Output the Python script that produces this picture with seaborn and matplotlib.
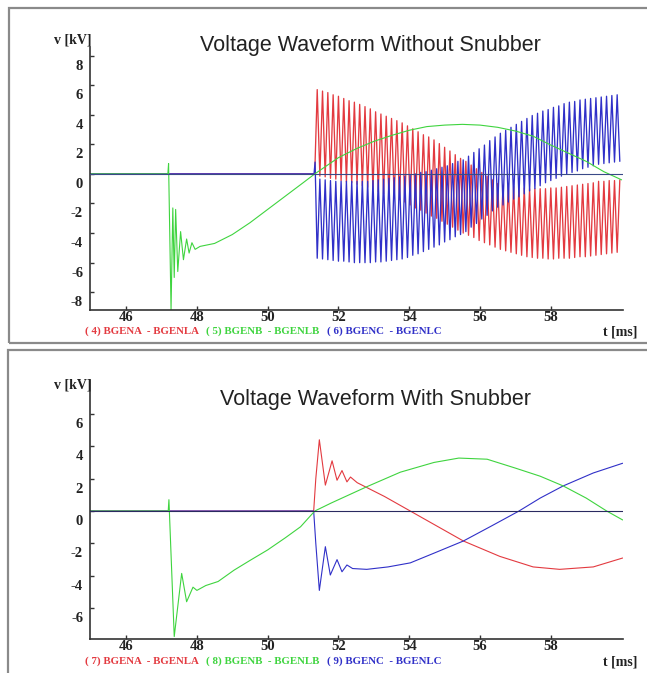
import matplotlib
matplotlib.use('Agg')
import pandas as pd
import matplotlib.pyplot as plt
import seaborn as sns
from matplotlib.patches import Rectangle
from matplotlib.transforms import ScaledTranslation

# ----------------- data -----------------
# fast oscillation (without snubber): peak times / trough times [ms]
peak_t = [51.40, 51.55, 51.70, 51.85, 52.00, 52.15, 52.30, 52.45, 52.60, 52.75,
          52.90, 53.05, 53.20, 53.35, 53.50, 53.65, 53.80, 53.95, 54.10, 54.25,
          54.40, 54.55, 54.70, 54.85, 55.00, 55.15, 55.30, 55.45, 55.60, 55.75,
          55.90, 56.05, 56.20, 56.35, 56.50, 56.65, 56.80, 56.95, 57.10, 57.25,
          57.40, 57.55, 57.70, 57.85, 58.00, 58.15, 58.30, 58.45, 58.60, 58.75,
          58.90, 59.05, 59.20, 59.35, 59.50, 59.65, 59.80, 59.95]
trough_t = [51.475, 51.625, 51.775, 51.925, 52.075, 52.225, 52.375, 52.525, 52.675, 52.825,
            52.975, 53.125, 53.275, 53.425, 53.575, 53.725, 53.875, 54.025, 54.175, 54.325,
            54.475, 54.625, 54.775, 54.925, 55.075, 55.225, 55.375, 55.525, 55.675, 55.825,
            55.975, 56.125, 56.275, 56.425, 56.575, 56.725, 56.875, 57.025, 57.175, 57.325,
            57.475, 57.625, 57.775, 57.925, 58.075, 58.225, 58.375, 58.525, 58.675, 58.825,
            58.975, 59.125, 59.275, 59.425, 59.575, 59.725, 59.875]

red_hi = [5.7, 5.6, 5.5, 5.35, 5.25, 5.1, 4.95, 4.85, 4.7, 4.55,
          4.4, 4.2, 4.05, 3.9, 3.75, 3.6, 3.45, 3.25, 3.05, 2.85,
          2.65, 2.5, 2.3, 2.05, 1.8, 1.55, 1.3, 1.05, 0.85, 0.6,
          0.35, 0.1, -0.15, -0.4, -0.65, -0.75, -0.8, -0.85, -0.9, -0.95,
          -1.0, -1.0, -1.0, -1.0, -0.95, -0.95, -0.9, -0.85, -0.8, -0.75,
          -0.7, -0.65, -0.6, -0.5, -0.5, -0.45, -0.45, -0.4]
red_lo = [-0.15, -0.2, -0.3, -0.35, -0.45, -0.55, -0.6, -0.7, -0.8, -0.9,
          -1.05, -1.2, -1.35, -1.5, -1.6, -1.75, -1.9, -2.1, -2.3, -2.45,
          -2.65, -2.85, -3.0, -3.2, -3.4, -3.6, -3.8, -4.0, -4.15, -4.3,
          -4.5, -4.65, -4.8, -4.95, -5.1, -5.2, -5.3, -5.4, -5.5, -5.6,
          -5.65, -5.7, -5.7, -5.75, -5.75, -5.7, -5.7, -5.7, -5.65, -5.6,
          -5.6, -5.55, -5.5, -5.45, -5.4, -5.35, -5.3]
blue_lo = [-5.7, -5.75, -5.8, -5.85, -5.9, -5.9, -5.95, -6.0, -6.0, -6.0,
           -6.0, -5.95, -5.95, -5.9, -5.85, -5.8, -5.75, -5.65, -5.5, -5.4,
           -5.25, -5.1, -4.95, -4.8, -4.6, -4.45, -4.25, -4.1, -3.9, -3.6,
           -3.35, -3.05, -2.8, -2.5, -2.25, -2.1, -1.9, -1.7, -1.55, -1.35,
           -1.15, -1.0, -0.8, -0.6, -0.45, -0.3, -0.15, 0.0, 0.1, 0.2,
           0.35, 0.45, 0.55, 0.65, 0.7, 0.75, 0.8, 0.85]
blue_hi = [-0.35, -0.4, -0.45, -0.5, -0.5, -0.5, -0.5, -0.5, -0.5, -0.5,
           -0.45, -0.4, -0.35, -0.3, -0.25, -0.2, -0.15, -0.1, 0.0, 0.1,
           0.15, 0.25, 0.35, 0.45, 0.55, 0.7, 0.85, 0.95, 1.2, 1.45,
           1.7, 1.95, 2.25, 2.5, 2.75, 2.95, 3.15, 3.35, 3.55, 3.75,
           3.95, 4.1, 4.25, 4.35, 4.5, 4.6, 4.75, 4.85, 4.9, 5.0,
           5.05, 5.1, 5.15, 5.2, 5.25, 5.3, 5.35]

# green phase, without snubber
g1_t = [44.98, 47.18, 47.20, 47.27, 47.32, 47.36, 47.40, 47.46, 47.54, 47.62, 47.71,
        47.78, 47.86, 47.95, 48.09, 48.5, 49.0, 49.5, 50.0, 50.5, 51.0, 51.33,
        52.0, 52.5, 53.0, 53.5, 54.0, 54.5, 55.0, 55.5, 56.0, 56.5, 57.0, 57.5,
        58.0, 58.5, 59.0, 59.5, 60.0]
g1_v = [0, 0, 0.7, -9.2, -2.3, -7.0, -2.4, -6.6, -3.9, -5.8, -4.4,
        -5.35, -4.65, -5.1, -4.9, -4.7, -4.1, -3.3, -2.4, -1.5, -0.6, 0.0,
        1.1, 1.7, 2.2, 2.6, 2.95, 3.2, 3.3, 3.35, 3.3, 3.15, 2.9, 2.55,
        1.95, 1.4, 0.85, 0.15, -0.4]
# leading flat part of red / blue before the breaker event
r1_pre_t, r1_pre_v = [44.98, 51.33], [0, 0]
b1_pre_t, b1_pre_v = [44.98, 51.31, 51.34], [0, 0, 0.8]

# with snubber
g2_t = [44.98, 47.19, 47.21, 47.36, 47.57, 47.71, 47.89, 48.0, 48.25, 48.6, 49.05,
        49.5, 50.0, 50.5, 50.93, 51.33, 51.8, 52.3, 52.8, 53.75, 54.7, 55.4,
        56.2, 57.0, 57.7, 58.35, 59.0, 59.58, 60.03]
g2_v = [0, 0, 0.7, -7.75, -3.85, -5.6, -4.7, -4.9, -4.6, -4.35, -3.65,
        -3.05, -2.4, -1.65, -0.97, 0.0, 0.5, 1.0, 1.5, 2.4, 3.0, 3.27,
        3.2, 2.65, 2.15, 1.55, 0.8, 0.0, -0.55]
r2_t = [44.98, 51.30, 51.36, 51.46, 51.63, 51.82, 51.96, 52.10, 52.24, 52.34,
        52.53, 53.3, 54.03, 54.8, 55.53, 56.56, 57.5, 58.25, 59.2, 60.03]
r2_v = [0, 0, 2.0, 4.4, 1.6, 3.1, 1.9, 2.5, 1.8, 2.1,
        1.75, 0.9, 0.0, -0.95, -1.85, -2.8, -3.45, -3.6, -3.45, -2.9]
b2_t = [44.98, 51.30, 51.36, 51.46, 51.63, 51.77, 51.96, 52.10, 52.24, 52.4,
        52.8, 53.4, 54.03, 54.7, 55.53, 56.3, 57.1, 57.7, 58.35, 59.2, 60.03]
b2_v = [0, 0, -2.0, -4.9, -2.2, -3.95, -3.0, -3.75, -3.33, -3.55,
        -3.6, -3.45, -3.2, -2.6, -1.85, -0.95, 0.0, 0.8, 1.55, 2.35, 2.95]

titles = ['Voltage Waveform Without Snubber', 'Voltage Waveform With Snubber']
legend_parts = [['( 4) BGENA  - BGENLA', '( 5) BGENB  - BGENLB', '( 6) BGENC  - BGENLC'],
                ['( 7) BGENA  - BGENLA', '( 8) BGENB  - BGENLB', '( 9) BGENC  - BGENLC']]
x_ticks = [46, 48, 50, 52, 54, 56, 58]
y_ticks = [[-8, -6, -4, -2, 0, 2, 4, 6, 8], [-6, -4, -2, 0, 2, 4, 6]]

RED, GREEN, BLUE = '#e33a40', '#3fd43f', '#3030c8'


def trace(pre_t, pre_v, hi_t, hi_v, lo_t, lo_v):
    # stitch flat lead-in and the alternating extrema into one ordered trace
    df = pd.concat([pd.DataFrame({'t': pre_t, 'v': pre_v}),
                    pd.DataFrame({'t': hi_t, 'v': hi_v}),
                    pd.DataFrame({'t': lo_t, 'v': lo_v})])
    return df.sort_values('t', kind='stable').reset_index(drop=True)


red1 = trace(r1_pre_t, r1_pre_v, peak_t, red_hi, trough_t, red_lo)
blue1 = trace(b1_pre_t, b1_pre_v, peak_t, blue_lo, trough_t, blue_hi)

#%% ----------------- figure -----------------------------
sns.set_theme(style='white')
plt.rcParams['axes.unicode_minus'] = False
plt.rcParams['font.family'] = ['Liberation Serif', 'DejaVu Serif']

W, H = 647, 673
fig = plt.figure(figsize=(W / 100, H / 100), dpi=100)
fig.patch.set_facecolor('white')


def px_axes(l, t, r, b):
    return fig.add_axes([l / W, 1 - b / H, (r - l) / W, (b - t) / H])


ax1 = px_axes(90, 47, 623, 310)
ax2 = px_axes(90, 380, 623, 639)

# frames around each panel (right/bottom run off the page like the scan)
fig.patches.append(Rectangle((9 / W, 1 - 343 / H), 660 / W, 335 / H, transform=fig.transFigure,
                             fill=False, ec='#8a8a8a', lw=1.6))
fig.patches.append(Rectangle((8 / W, -0.05), 660 / W, 1 - 350 / H + 0.05, transform=fig.transFigure,
                             fill=False, ec='#8a8a8a', lw=1.6))

kw = dict(sort=False, estimator=None)
sns.lineplot(x=red1['t'], y=red1['v'], ax=ax1, color=RED, lw=0.95, **kw)
sns.lineplot(x=blue1['t'], y=blue1['v'], ax=ax1, color=BLUE, lw=0.95, **kw)
sns.lineplot(x=g1_t, y=g1_v, ax=ax1, color=GREEN, lw=0.8, **kw)

sns.lineplot(x=r2_t, y=r2_v, ax=ax2, color=RED, lw=0.8, **kw)
sns.lineplot(x=b2_t, y=b2_v, ax=ax2, color=BLUE, lw=0.8, **kw)
sns.lineplot(x=g2_t, y=g2_v, ax=ax2, color=GREEN, lw=0.8, **kw)

ax1.set_ylim(-9.2, 8.58)
ax2.set_ylim(-7.9, 8.09)

for i, ax in enumerate([ax1, ax2]):
    ax.axhline(0, color=['#3a4a88', '#2a2a60'][i], lw=0.8, zorder=5)
    ax.set_xlim(44.98, 60.04)
    ax.set_xticks(x_ticks)
    ax.set_xticklabels([str(t) for t in x_ticks])
    ax.set_yticks(y_ticks[i])
    ax.set_yticklabels([str(t) for t in y_ticks[i]])
    ax.set_xlabel('')
    ax.set_ylabel('')
    ax.set_facecolor('white')
    for s in ['top', 'right']:
        ax.spines[s].set_visible(False)
    for s in ['left', 'bottom']:
        ax.spines[s].set_color('#333333')
        ax.spines[s].set_linewidth(1.2)
    ax.tick_params(axis='both', direction='in', length=3, width=1, color='#333333',
                   labelsize=10.5, labelcolor='#222222')
    ax.tick_params(axis='x', pad=1, bottom=True)
    ax.tick_params(axis='y', pad=5, left=True)
    for lab in ax.get_xticklabels() + ax.get_yticklabels():
        lab.set_fontweight('bold')
    # the scan prints the y labels a little below their ticks
    shift = ScaledTranslation(0, -9 / 100, fig.dpi_scale_trans)
    for lab in ax.get_yticklabels():
        lab.set_transform(lab.get_transform() + shift)

# titles and axis captions
fig.text(370 / W, 1 - 50.5 / H, titles[0], ha='center', va='baseline', fontsize=15.5,
         family='Liberation Sans', color='#222222')
fig.text(375 / W, 1 - 405 / H, titles[1], ha='center', va='baseline', fontsize=15.5,
         family='Liberation Sans', color='#222222')
for ytop in [40, 385]:
    fig.text(92 / W, 1 - ytop / H, 'v [kV]', ha='right', va='center', fontsize=10,
             fontweight='bold', color='#222222')
for ybot in [332, 662]:
    fig.text(637 / W, 1 - ybot / H, 't [ms]', ha='right', va='center', fontsize=10,
             fontweight='bold', color='#222222')

# coloured trace captions under the time axis
for parts, yc in zip(legend_parts, [331, 661]):
    for txt, x0, c in zip(parts, [85, 206, 327], [RED, GREEN, BLUE]):
        fig.text(x0 / W, 1 - yc / H, txt, ha='left', va='center', fontsize=7.8,
                 fontweight='bold', color=c)

fig.savefig('out.png', dpi=100, facecolor='white')
